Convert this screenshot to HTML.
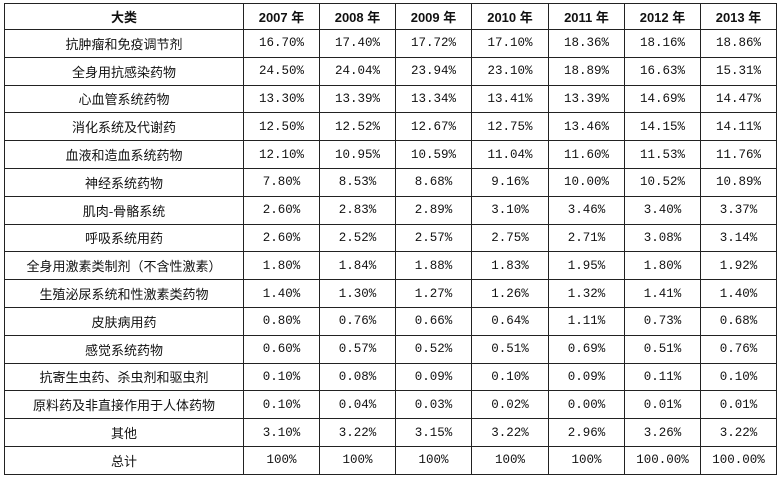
<!DOCTYPE html>
<html><head><meta charset="utf-8"><style>
html,body{margin:0;padding:0;background:#fff;width:782px;height:477px;overflow:hidden}
table{position:absolute;left:4px;top:3px;border-collapse:collapse;table-layout:fixed;width:772px}
td,th{border:1px solid #222;text-align:center;padding:0;color:#111;white-space:nowrap;overflow:hidden}
th{height:25px;font:bold 13px "Liberation Sans","Noto Sans CJK SC",sans-serif}
td{height:26.8px;font:12.5px "Liberation Mono","Noto Sans CJK SC",monospace}
td.c{font:13px "Noto Sans CJK SC","WenQuanYi Zen Hei",sans-serif}
</style></head><body>
<table>
<colgroup><col style="width:239px"><col style="width:76px"><col style="width:76px"><col style="width:76px"><col style="width:77px"><col style="width:76px"><col style="width:76px"><col style="width:76px"></colgroup>
<tr><th>大类</th><th>2007 年</th><th>2008 年</th><th>2009 年</th><th>2010 年</th><th>2011 年</th><th>2012 年</th><th>2013 年</th></tr>
<tr><td class="c">抗肿瘤和免疫调节剂</td><td>16.70%</td><td>17.40%</td><td>17.72%</td><td>17.10%</td><td>18.36%</td><td>18.16%</td><td>18.86%</td></tr>
<tr><td class="c">全身用抗感染药物</td><td>24.50%</td><td>24.04%</td><td>23.94%</td><td>23.10%</td><td>18.89%</td><td>16.63%</td><td>15.31%</td></tr>
<tr><td class="c">心血管系统药物</td><td>13.30%</td><td>13.39%</td><td>13.34%</td><td>13.41%</td><td>13.39%</td><td>14.69%</td><td>14.47%</td></tr>
<tr><td class="c">消化系统及代谢药</td><td>12.50%</td><td>12.52%</td><td>12.67%</td><td>12.75%</td><td>13.46%</td><td>14.15%</td><td>14.11%</td></tr>
<tr><td class="c">血液和造血系统药物</td><td>12.10%</td><td>10.95%</td><td>10.59%</td><td>11.04%</td><td>11.60%</td><td>11.53%</td><td>11.76%</td></tr>
<tr><td class="c">神经系统药物</td><td>7.80%</td><td>8.53%</td><td>8.68%</td><td>9.16%</td><td>10.00%</td><td>10.52%</td><td>10.89%</td></tr>
<tr><td class="c">肌肉-骨骼系统</td><td>2.60%</td><td>2.83%</td><td>2.89%</td><td>3.10%</td><td>3.46%</td><td>3.40%</td><td>3.37%</td></tr>
<tr><td class="c">呼吸系统用药</td><td>2.60%</td><td>2.52%</td><td>2.57%</td><td>2.75%</td><td>2.71%</td><td>3.08%</td><td>3.14%</td></tr>
<tr><td class="c">全身用激素类制剂（不含性激素）</td><td>1.80%</td><td>1.84%</td><td>1.88%</td><td>1.83%</td><td>1.95%</td><td>1.80%</td><td>1.92%</td></tr>
<tr><td class="c">生殖泌尿系统和性激素类药物</td><td>1.40%</td><td>1.30%</td><td>1.27%</td><td>1.26%</td><td>1.32%</td><td>1.41%</td><td>1.40%</td></tr>
<tr><td class="c">皮肤病用药</td><td>0.80%</td><td>0.76%</td><td>0.66%</td><td>0.64%</td><td>1.11%</td><td>0.73%</td><td>0.68%</td></tr>
<tr><td class="c">感觉系统药物</td><td>0.60%</td><td>0.57%</td><td>0.52%</td><td>0.51%</td><td>0.69%</td><td>0.51%</td><td>0.76%</td></tr>
<tr><td class="c">抗寄生虫药、杀虫剂和驱虫剂</td><td>0.10%</td><td>0.08%</td><td>0.09%</td><td>0.10%</td><td>0.09%</td><td>0.11%</td><td>0.10%</td></tr>
<tr><td class="c">原料药及非直接作用于人体药物</td><td>0.10%</td><td>0.04%</td><td>0.03%</td><td>0.02%</td><td>0.00%</td><td>0.01%</td><td>0.01%</td></tr>
<tr><td class="c">其他</td><td>3.10%</td><td>3.22%</td><td>3.15%</td><td>3.22%</td><td>2.96%</td><td>3.26%</td><td>3.22%</td></tr>
<tr><td class="c">总计</td><td>100%</td><td>100%</td><td>100%</td><td>100%</td><td>100%</td><td>100.00%</td><td>100.00%</td></tr>
</table>
</body></html>
